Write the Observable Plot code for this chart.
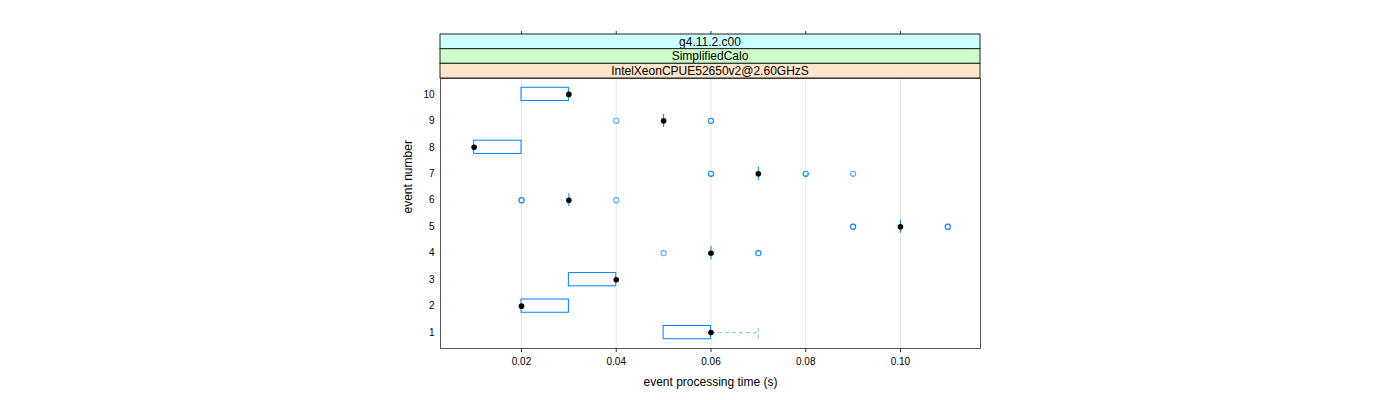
<!DOCTYPE html>
<html><head><meta charset="utf-8">
<script src="https://cdn.jsdelivr.net/npm/d3@7"></script>
<script src="https://cdn.jsdelivr.net/npm/@observablehq/plot@0.6"></script>
<style>body{margin:0;background:#fff;font-family:"Liberation Sans",Arial,sans-serif;}</style>
</head><body><div id="chart"></div>
<script>
// ---- data ----
const events      = [1, 2, 3, 4, 5, 6, 7, 8, 9, 10];
const boxLow      = [0.05, 0.02, 0.03, 0.06, 0.10, 0.03, 0.07, 0.01, 0.05, 0.02];
const boxHigh     = [0.06, 0.03, 0.04, 0.06, 0.10, 0.03, 0.07, 0.02, 0.05, 0.03];
const medians     = [0.06, 0.02, 0.04, 0.06, 0.10, 0.03, 0.07, 0.01, 0.05, 0.03];
const whiskerHigh = [0.07, 0.03, 0.04, 0.06, 0.10, 0.03, 0.07, 0.02, 0.05, 0.03];
const outlierEvent = [9, 9, 7, 7, 7, 6, 6, 5, 5, 4, 4];
const outlierValue = [0.04, 0.06, 0.06, 0.08, 0.09, 0.02, 0.04, 0.09, 0.11, 0.05, 0.07];
const outlierCount = [1, 2, 2, 2, 1, 2, 1, 2, 2, 1, 2];
const xTicks = [0.02, 0.04, 0.06, 0.08, 0.10];
const stripLabels = ["g4.11.2.c00", "SimplifiedCalo", "IntelXeonCPUE52650v2@2.60GHzS"];
const stripColors = ["#ccffff", "#ccffcc", "#ffe5cc"];
const xLabel = "event processing time (s)";
const yLabel = "event number";

// ---- derived tables ----
const boxes = events.map((e, i) => ({e, lo: boxLow[i], hi: boxHigh[i], med: medians[i], wh: whiskerHigh[i]}));
const outliers = [];
outlierEvent.forEach((e, i) => { for (let k = 0; k < outlierCount[i]; k++) outliers.push({e, v: outlierValue[i]}); });
const hb = 0.25; // half box height (box.ratio = 1)
const blue = "#0080ff";

const chart = Plot.plot({
  width: 1400, height: 400,
  marginLeft: 440, marginRight: 420, marginTop: 78, marginBottom: 52,
  style: {fontFamily: '"Liberation Sans", Arial, sans-serif', background: "#fff"},
  x: {domain: [0.0029, 0.1169]},
  y: {domain: [0.4, 10.6]},
  marks: [
    Plot.gridX(xTicks, {stroke: "#e6e6e6", strokeOpacity: 1}),
    Plot.rect(boxes.filter(d => d.hi > d.lo), {x1: "lo", x2: "hi", y1: d => d.e - hb, y2: d => d.e + hb, fill: "none", stroke: blue}),
    Plot.ruleX(boxes.filter(d => d.hi === d.lo), {x: "lo", y1: d => d.e - hb, y2: d => d.e + hb, stroke: blue}),
    Plot.link(boxes.filter(d => d.wh > d.hi), {x1: "hi", x2: "wh", y1: "e", y2: "e", stroke: blue, strokeOpacity: 0.5, strokeDasharray: "4,3"}),
    Plot.ruleX(boxes.filter(d => d.wh > d.hi), {x: "wh", y1: d => d.e - hb, y2: d => d.e + hb, stroke: blue, strokeOpacity: 0.5, strokeDasharray: "4,3"}),
    Plot.dot(outliers, {x: "v", y: "e", r: 2.6, stroke: blue, strokeOpacity: 0.65, strokeWidth: 1.1, fill: "none"}),
    Plot.dot(boxes, {x: "med", y: "e", r: 2.8, fill: "#000", stroke: "none"}),
    Plot.frame({stroke: "#555"}),
    Plot.axisX(xTicks, {anchor: "bottom", tickSize: 4, tickPadding: 5, tickFormat: d3.format(".2f"), fontSize: 10, label: null, stroke: "#333", fill: "#000"}),
    Plot.axisX(xTicks, {anchor: "top", tickSize: 4, tickFormat: () => "", label: null, dy: -44, stroke: "#333"}),
    Plot.axisY(events, {anchor: "left", tickSize: 0, tickPadding: 6, fontSize: 10, label: null, fill: "#000"}),
    Plot.text([xLabel], {frameAnchor: "bottom", dy: 37, fontSize: 12, fill: "#000"}),
    Plot.text([yLabel], {frameAnchor: "left", dx: -32, rotate: -90, fontSize: 12, fill: "#000"})
  ]
});
document.getElementById("chart").appendChild(chart);

// ---- strips above the panel ----
const svgSel = d3.select(chart);
const [px0, px1] = chart.scale("x").range;
const yRange = chart.scale("y").range;
const panelTop = Math.min(...yRange);
const sh = 14.67;
const stripG = svgSel.append("g");
stripLabels.forEach((lab, i) => {
  const y = panelTop - (stripLabels.length - i) * sh;
  stripG.append("rect").attr("x", px0).attr("y", y).attr("width", px1 - px0).attr("height", sh)
    .attr("fill", stripColors[i]).attr("stroke", "#222").attr("stroke-width", 1);
  stripG.append("text").attr("x", (px0 + px1) / 2).attr("y", y + sh / 2).attr("dy", "0.36em")
    .attr("text-anchor", "middle").attr("font-size", 12).attr("fill", "#000").text(lab);
});
</script>
</body></html>
